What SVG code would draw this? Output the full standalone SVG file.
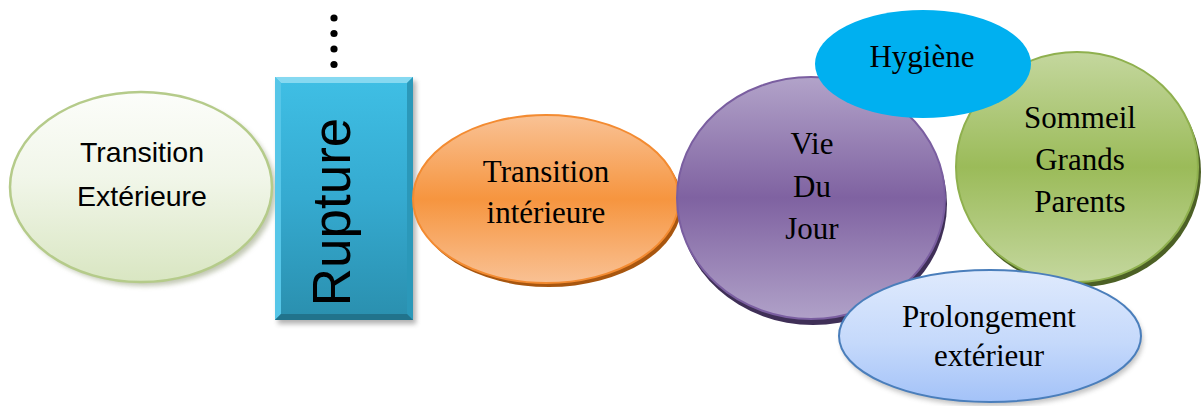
<svg xmlns="http://www.w3.org/2000/svg" width="1203" height="406" viewBox="0 0 1203 406">
<defs>
<linearGradient id="gExt" x1="0" y1="0" x2="0" y2="1">
<stop offset="0" stop-color="#fcfdfa"/><stop offset="0.45" stop-color="#f1f6e9"/><stop offset="1" stop-color="#d9e6c2"/>
</linearGradient>
<linearGradient id="gRup" x1="0" y1="0" x2="0" y2="1">
<stop offset="0" stop-color="#3fbfe5"/><stop offset="0.5" stop-color="#35aad0"/><stop offset="1" stop-color="#2a8fae"/>
</linearGradient>
<linearGradient id="gOr" x1="0" y1="0" x2="0" y2="1">
<stop offset="0" stop-color="#f9c295"/><stop offset="0.5" stop-color="#f6953f"/><stop offset="1" stop-color="#f9c194"/>
</linearGradient>
<linearGradient id="gPu" x1="0" y1="0" x2="0" y2="1">
<stop offset="0" stop-color="#b2a3c9"/><stop offset="0.5" stop-color="#7f62a1"/><stop offset="1" stop-color="#b0a1c8"/>
</linearGradient>
<linearGradient id="gGr" x1="0" y1="0" x2="0" y2="1">
<stop offset="0" stop-color="#c4d79e"/><stop offset="0.5" stop-color="#9bbb59"/><stop offset="1" stop-color="#c4d79e"/>
</linearGradient>
<linearGradient id="gPr" x1="0" y1="0" x2="0" y2="1">
<stop offset="0" stop-color="#dfeafd"/><stop offset="0.55" stop-color="#c5d9fb"/><stop offset="1" stop-color="#a3c2f8"/>
</linearGradient>
<filter id="blur" x="-20%" y="-20%" width="140%" height="140%"><feGaussianBlur stdDeviation="2.5"/></filter>
<style>
.sans{font-family:"Liberation Sans",Arial,sans-serif;fill:#000}
.serif{font-family:"Liberation Serif","Times New Roman",serif;fill:#000;font-size:31px}
.dot{fill:#000}
</style>
</defs>
<rect width="1203" height="406" fill="#ffffff"/>

<g id="connectors">
<circle class="dot" cx="334" cy="18" r="3.6"/>
<circle class="dot" cx="334" cy="33.5" r="3.6"/>
<circle class="dot" cx="334" cy="49" r="3.6"/>
<circle class="dot" cx="334" cy="64.5" r="3.6"/>
</g>

<g id="node-transition-exterieure">
<ellipse cx="145" cy="191" rx="131" ry="95" fill="#8f9a74" opacity="0.55" filter="url(#blur)"/>
<ellipse cx="141" cy="187" rx="131" ry="95" fill="url(#gExt)" stroke="#b5cb8a" stroke-width="2.5"/>
<text class="sans" font-size="28.5" x="142" y="162" text-anchor="middle">Transition</text>
<text class="sans" font-size="28.5" x="142" y="206" text-anchor="middle">Extérieure</text>
</g>

<g id="node-rupture">
<rect x="278" y="81" width="138" height="243" fill="#555" opacity="0.45" filter="url(#blur)"/>
<rect x="275" y="77" width="138" height="243" fill="url(#gRup)"/>
<polygon points="275,77 413,77 407,83 281,83" fill="#86d9f1"/>
<polygon points="275,77 281,83 281,314 275,320" fill="#56c6e8"/>
<polygon points="413,77 413,320 407,314 407,83" fill="#2b98b9"/>
<polygon points="275,320 281,314 407,314 413,320" fill="#21738c"/>
<text class="sans" font-size="53" x="350" y="212" text-anchor="middle" transform="rotate(-90 350 212)">Rupture</text>
</g>

<g id="node-transition-interieure">
<ellipse cx="549" cy="203" rx="133" ry="84" fill="#a8560f"/>
<ellipse cx="546" cy="199" rx="133" ry="84" fill="url(#gOr)" stroke="#f38b31" stroke-width="2"/>
<text class="serif" x="546" y="182" text-anchor="middle">Transition</text>
<text class="serif" x="546" y="223" text-anchor="middle">intérieure</text>
</g>

<g id="node-vie-du-jour">
<ellipse cx="813" cy="204" rx="134" ry="121" fill="#3f2f57"/>
<ellipse cx="811" cy="198" rx="134" ry="121" fill="url(#gPu)" stroke="#7a5ea0" stroke-width="2"/>
<text class="serif" x="812" y="154" text-anchor="middle">Vie</text>
<text class="serif" x="812" y="197" text-anchor="middle">Du</text>
<text class="serif" x="812" y="239" text-anchor="middle">Jour</text>
</g>

<g id="node-sommeil">
<ellipse cx="1080" cy="172" rx="121" ry="115" fill="#4c6025"/>
<ellipse cx="1077" cy="167" rx="121" ry="115" fill="url(#gGr)" stroke="#8fb04e" stroke-width="2"/>
<text class="serif" x="1080" y="128" text-anchor="middle">Sommeil</text>
<text class="serif" x="1080" y="170" text-anchor="middle">Grands</text>
<text class="serif" x="1080" y="212" text-anchor="middle">Parents</text>
</g>

<g id="node-hygiene">
<ellipse cx="923" cy="64" rx="108" ry="54" fill="#00b0f0"/>
<text class="serif" x="922" y="67" text-anchor="middle">Hygiène</text>
</g>

<g id="node-prolongement">
<ellipse cx="992" cy="340" rx="151" ry="66" fill="#777" opacity="0.45" filter="url(#blur)"/>
<ellipse cx="990" cy="336" rx="151" ry="66" fill="url(#gPr)" stroke="#4a7ebb" stroke-width="2"/>
<text class="serif" x="989" y="327" text-anchor="middle">Prolongement</text>
<text class="serif" x="989" y="366" text-anchor="middle">extérieur</text>
</g>
</svg>
